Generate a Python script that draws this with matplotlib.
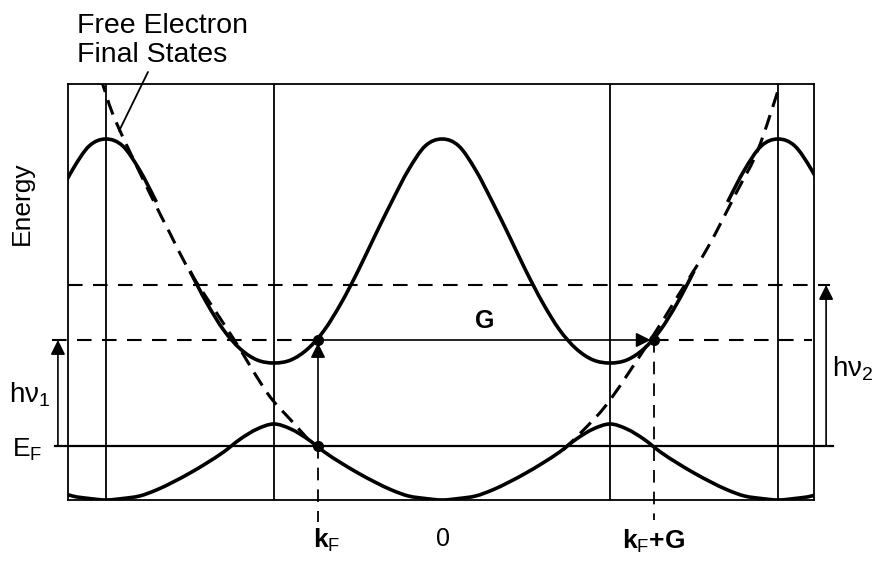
import numpy as np
import matplotlib.pyplot as plt
from matplotlib.path import Path
from matplotlib.patches import PathPatch

plt.rcParams['font.family'] = ['Liberation Sans', 'DejaVu Sans']
plt.rcParams['mathtext.fontset'] = 'custom'
plt.rcParams['mathtext.rm'] = 'Liberation Sans'
plt.rcParams['mathtext.it'] = 'Liberation Sans:italic'
plt.rcParams['mathtext.bf'] = 'Liberation Sans:bold'

k_step = 0.05
upper_band = [361, 354, 330, 298, 264, 229, 197, 170, 151, 140, 137]
lower_band = [0, 1.5, 4, 10, 18, 27, 37, 48, 61, 71, 76]

# free electron final states (dashed parabola), two branches
fe_left_k = [-1.04, -1.01, -0.97, -0.87, -0.81, -0.76, -0.71, -0.62, -0.52, -0.45, -0.39, -0.369]
fe_left_E = [445, 416, 378, 307, 267, 234, 207, 161, 107, 80, 58, 54]
fe_right_k = [0.36, 0.43, 0.50, 0.62, 0.70, 0.79, 0.88, 0.94, 1.006, 1.03]
fe_right_E = [50, 73, 100, 160, 203, 252, 310, 350, 416, 445]

E_F = 54          # Fermi level
E_1 = 160         # final state reached with hv1
E_2 = 215         # final state level for hv2
k_F = -0.369
G = 1.0
zone_lines = [-1.0, -0.5, 0.5, 1.0]


def smooth_path(x, y, keep=None):
    # Catmull-Rom through the read points, as cubic bezier segments
    p = np.column_stack([x, y]).astype(float)
    ext = np.vstack([p[0], p, p[-1]])
    verts, codes = [], []
    down = False
    for i in range(len(p) - 1):
        if keep is not None and not keep[i]:
            down = False
            continue
        p0, p1, p2, p3 = ext[i], ext[i + 1], ext[i + 2], ext[i + 3]
        if not down:
            verts.append(p1)
            codes.append(Path.MOVETO)
            down = True
        verts += [p1 + (p2 - p0) / 6, p2 - (p3 - p1) / 6, p2]
        codes += [Path.CURVE4] * 3
    return Path(verts, codes)


# repeated zone: fold each k back onto the half period that was read
k_grid = np.arange(-23, 24) * k_step
idx = np.rint(np.abs(k_grid - np.rint(k_grid)) / k_step).astype(int)
upper = np.array(upper_band)[idx]
lower = np.array(lower_band)[idx]

fig = plt.figure(figsize=(8.8, 5.62), dpi=100)
ax = fig.add_axes([68 / 880, 62 / 562, 746 / 880, 416 / 562])
ax.set_xlim(-1.113, 1.107)
ax.set_ylim(0, 416)
ax.set_xticks([])
ax.set_yticks([])
for s in ax.spines.values():
    s.set_linewidth(1.3)

for k in zone_lines:
    ax.axvline(k, color='k', lw=1.3)

# upper band is left out where the dashed parabola runs over it
kmid = np.abs(k_grid[:-1] + k_grid[1:]) / 2
keep = ~((kmid > 0.75) & (kmid < 0.85))
ax.add_patch(PathPatch(smooth_path(k_grid, upper, keep), fill=False, lw=2.6, ec='k'))
ax.add_patch(PathPatch(smooth_path(k_grid, lower), fill=False, lw=2.6, ec='k'))
for kk, ee in [(fe_left_k, fe_left_E), (fe_right_k, fe_right_E)]:
    ax.add_patch(PathPatch(smooth_path(kk, ee), fill=False, lw=2.2, ec='k',
                           ls=(0, (5, 2.8))))

dash = (0, (7, 5))
ax.plot([-1.152, 1.164], [E_F, E_F], color='k', lw=1.6, clip_on=False)
ax.plot([-1.16, k_F], [E_1, E_1], color='k', lw=1.5, ls=dash, clip_on=False)
ax.plot([k_F + G, 1.10], [E_1, E_1], color='k', lw=1.5, ls=dash, clip_on=False)
ax.plot([-1.113, 1.155], [E_2, E_2], color='k', lw=1.5, ls=dash, clip_on=False)
ax.plot([k_F, k_F], [E_F, -22], color='k', lw=1.3, ls=dash, clip_on=False)
ax.plot([k_F + G, k_F + G], [E_1, -20], color='k', lw=1.3, ls=dash, clip_on=False)

arrow = dict(arrowstyle='-|>', lw=1.2, color='k', mutation_scale=22, shrinkA=0, shrinkB=0)
ax.annotate('', xy=(-1.143, E_1), xytext=(-1.143, E_F), arrowprops=arrow, annotation_clip=False)
ax.annotate('', xy=(1.143, E_2), xytext=(1.143, E_F), arrowprops=arrow, annotation_clip=False)
ax.annotate('', xy=(k_F, E_1 - 3), xytext=(k_F, E_F), arrowprops=arrow)
ax.annotate('', xy=(k_F + G - 0.01, E_1), xytext=(k_F, E_1), arrowprops=arrow)

ax.plot([k_F, k_F, k_F + G], [E_F, E_1, E_1], 'o', color='k', ms=7, zorder=5)

ax.text(-1.086, 467, 'Free Electron', fontsize=20.5, ha='left', va='baseline', clip_on=False)
ax.text(-1.086, 438, 'Final States', fontsize=20.5, ha='left', va='baseline', clip_on=False)
ax.annotate('', xy=(-0.961, 369), xytext=(-0.875, 428), annotation_clip=False,
            arrowprops=dict(arrowstyle='-', lw=1.3, color='k', shrinkA=0, shrinkB=0))
ax.text(-1.25, 297, 'Energy', fontsize=19, rotation=90, ha='center', va='center')
ax.text(-1.226, 105, 'h\u03bd$_{1}$', fontsize=20, ha='center', va='center')
ax.text(-1.235, 50, 'E$_\\mathrm{F}$', fontsize=19, ha='center', va='center')
ax.text(1.223, 131, 'h\u03bd$_{2}$', fontsize=20, ha='center', va='center')
ax.text(0.128, 179, 'G', fontsize=18, fontweight='bold', ha='center', va='center')
ax.text(k_F + 0.027, -40, r'$\mathbf{k}_\mathrm{F}$', fontsize=19, ha='center', va='center')
ax.text(0.003, -39, '0', fontsize=18, ha='center', va='center')
ax.text(k_F + G, -41, r'$\mathbf{k}_\mathrm{F}$' + '+G', fontsize=19, fontweight='bold',
        ha='center', va='center')

fig.savefig('out.png', dpi=100)
